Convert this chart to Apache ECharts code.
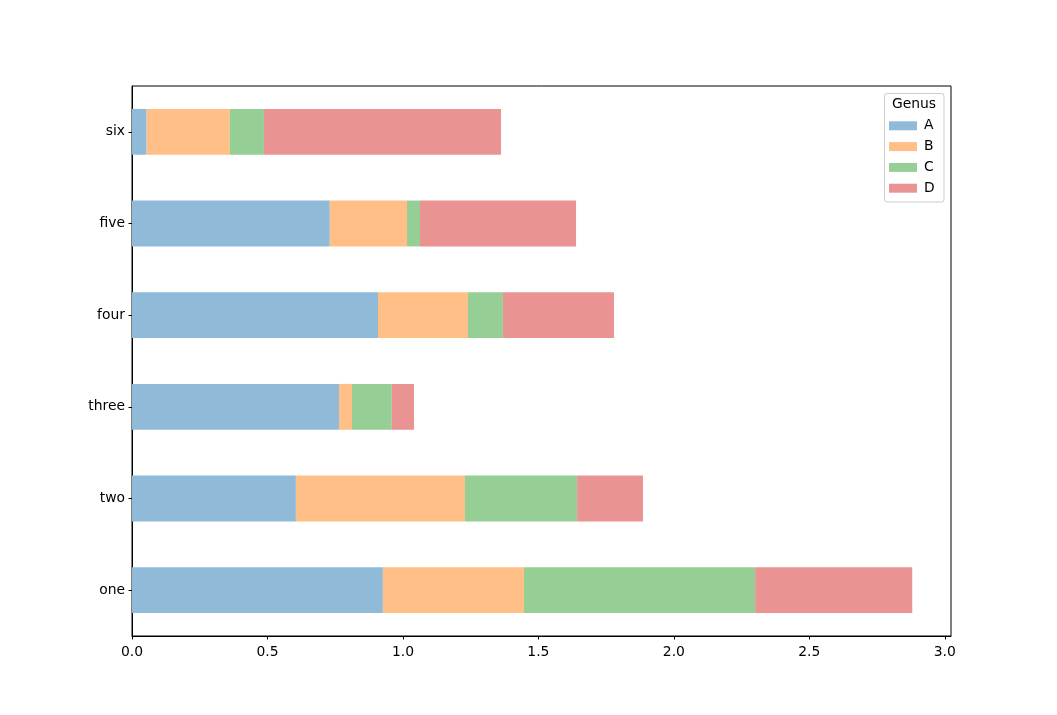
<!DOCTYPE html>
<html>
<head>
<meta charset="utf-8">
<script src="https://cdn.jsdelivr.net/npm/echarts@6/dist/echarts.min.js"></script>
<style>html,body{margin:0;padding:0;background:#fff}#c{width:1057px;height:715px}</style>
</head>
<body>
<div id="c"></div>
<script>
const categories = ['one', 'two', 'three', 'four', 'five', 'six'];
const seriesNames = ['A', 'B', 'C', 'D'];
const valuesA = [0.926, 0.605, 0.764, 0.908, 0.730, 0.054];
const valuesB = [0.521, 0.624, 0.048, 0.332, 0.285, 0.307];
const valuesC = [0.853, 0.414, 0.147, 0.129, 0.048, 0.126];
const valuesD = [0.580, 0.243, 0.082, 0.410, 0.576, 0.875];
const xMax = 3.023;
const legendTitle = 'Genus';

const colors = ['#8fbbd9', '#ffbf86', '#95cf95', '#ea9393'];
const allValues = [valuesA, valuesB, valuesC, valuesD];
const FONT = 'DejaVu Sans';
const FS = 13.9;

const chart = echarts.init(document.getElementById('c'), null, {renderer: 'canvas'});
chart.setOption({
  animation: false,
  backgroundColor: '#ffffff',
  textStyle: {fontFamily: FONT},
  grid: {left: 132, right: 106, top: 86, bottom: 79, show: true, borderColor: '#000', borderWidth: 1, backgroundColor: 'transparent'},
  xAxis: {
    type: 'value', min: 0, max: xMax, interval: 0.5,
    splitLine: {show: false},
    axisLine: {show: true, lineStyle: {color: '#000', width: 1}},
    axisTick: {show: true, length: 3.5, lineStyle: {color: '#000', width: 1}},
    axisLabel: {color: '#000', fontFamily: FONT, fontSize: FS, margin: 9,
      showMaxLabel: false,
      formatter: v => Math.abs(v * 2 - Math.round(v * 2)) < 1e-6 ? v.toFixed(1) : ''}
  },
  yAxis: {
    type: 'category', data: categories,
    axisLine: {show: true, lineStyle: {color: '#000', width: 1}},
    axisTick: {show: true, alignWithLabel: true, length: 3.5, lineStyle: {color: '#000', width: 1}},
    axisLabel: {color: '#000', fontFamily: FONT, fontSize: FS, margin: 7, padding: [4, 0, 0, 0]}
  },
  legend: {
    orient: 'vertical', left: 889, top: 118.8, padding: 0, z: 10,
    itemWidth: 28, itemHeight: 9, itemGap: 6.8,
    icon: 'rect',
    data: seriesNames,
    textStyle: {color: '#000', fontFamily: FONT, fontSize: FS, lineHeight: 14, padding: [0, 0, 0, 2]}
  },
  graphic: [
    {type: 'rect', z: 1, shape: {x: 884.5, y: 93.5, width: 59.5, height: 108.5, r: 2.5},
      style: {fill: 'rgba(255,255,255,0.8)', stroke: '#cccccc', lineWidth: 1}},
    {type: 'text', z: 6, x: 914, y: 104.5,
      style: {text: legendTitle, fill: '#000', font: FS + 'px "' + FONT + '"', textAlign: 'center', textVerticalAlign: 'middle'}}
  ],
  series: seriesNames.map((name, i) => ({
    name: name, type: 'bar', stack: 'total', barWidth: '50%',
    itemStyle: {color: colors[i]},
    data: allValues[i]
  }))
});
</script>
</body>
</html>
